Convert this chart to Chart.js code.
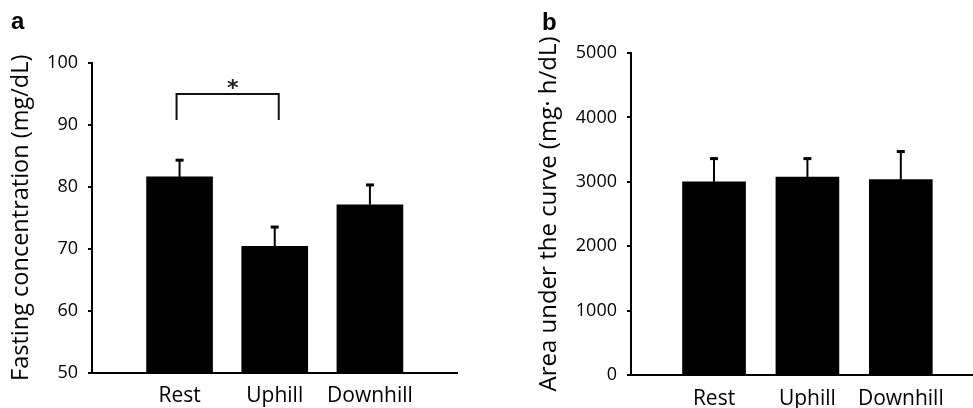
<!DOCTYPE html>
<html>
<head>
<meta charset="utf-8">
<script src="https://cdn.jsdelivr.net/npm/chart.js@4/dist/chart.umd.min.js"></script>
<style>
    body { margin: 0; background: #fff; }
    #wrap { position: relative; width: 973px; height: 408px; overflow: hidden; }
    .panel { position: absolute; top: 0; height: 408px; }
    .tag { position: absolute; font: bold 24px "Liberation Sans", Arial, sans-serif; color: #000; }
</style>
</head>
<body>
<div id="wrap">
    <div class="panel" style="left:0;width:490px"><canvas id="cA" width="490" height="408"></canvas></div>
    <div class="panel" style="left:490px;width:483px"><canvas id="cB" width="483" height="408"></canvas></div>
    <div class="tag" style="left:11px;top:7px">a</div>
    <div class="tag" style="left:542px;top:8px">b</div>
</div>
<script>
const categories = ['Rest', 'Uphill', 'Downhill'];

// panel a - fasting concentration
const fastingMean = [81.6, 70.4, 77.1];
const fastingErr = [2.7, 3.1, 3.2];
const fastingTicks = [50, 60, 70, 80, 90, 100];

// panel b - area under the curve
const aucMean = [3000, 3075, 3035];
const aucErr = [360, 285, 435];
const aucTicks = [0, 1000, 2000, 3000, 4000, 5000];

// significance Rest vs Uphill
const sigPair = [0, 1];
const sigTop = 95;
const sigLeg = 90.8;
const sigText = '*';

const FONT = '"Open Sans", "Noto Sans", sans-serif';

const errBars = {
    id: 'errBars',
    afterDatasetsDraw(chart, args, opts) {
        const ctx = chart.ctx, xs = chart.scales.x, ys = chart.scales.y;
        ctx.save();
        ctx.strokeStyle = '#000';
        opts.mean.forEach((m, i) => {
            const x = xs.getPixelForValue(i);
            const y0 = ys.getPixelForValue(m);
            const y1 = ys.getPixelForValue(m + opts.err[i]);
            ctx.lineWidth = 2;
            ctx.beginPath();
            ctx.moveTo(x, y0);
            ctx.lineTo(x, y1);
            ctx.stroke();
            ctx.lineWidth = 3;
            ctx.beginPath();
            ctx.moveTo(x - 4, y1);
            ctx.lineTo(x + 4, y1);
            ctx.stroke();
        });
        ctx.restore();
    }
};

const bracket = {
    id: 'bracket',
    afterDatasetsDraw(chart, args, opts) {
        if (!opts.on) return;
        const ctx = chart.ctx, xs = chart.scales.x, ys = chart.scales.y;
        const xl = xs.getPixelForValue(sigPair[0]) - 3;
        const xr = xs.getPixelForValue(sigPair[1]) + 4;
        const yt = ys.getPixelForValue(sigTop);
        const yb = ys.getPixelForValue(sigLeg);
        ctx.save();
        ctx.strokeStyle = '#111';
        ctx.lineWidth = 2;
        ctx.beginPath();
        ctx.moveTo(xl, yb);
        ctx.lineTo(xl, yt);
        ctx.lineTo(xr, yt);
        ctx.lineTo(xr, yb);
        ctx.stroke();
        ctx.fillStyle = '#222';
        ctx.font = 'bold 22px "DejaVu Sans", sans-serif';
        ctx.textAlign = 'center';
        ctx.textBaseline = 'alphabetic';
        ctx.fillText(sigText, (xl + xr) / 2 + 5, yt + 1);
        ctx.restore();
    }
};

function build(id, o) {
    return new Chart(document.getElementById(id), {
        type: 'bar',
        data: {
            datasets: [{
                data: o.mean.map((v, i) => ({ x: i, y: v })),
                backgroundColor: '#000',
                borderWidth: 0,
                barThickness: o.barW
            }]
        },
        options: {
            responsive: false,
            animation: false,
            events: [],
            layout: { padding: { top: o.top, right: o.right, left: 0, bottom: 0 } },
            plugins: {
                legend: { display: false },
                tooltip: { enabled: false },
                errBars: { mean: o.mean, err: o.err },
                bracket: { on: o.sig }
            },
            scales: {
                x: {
                    type: 'linear',
                    offset: false,
                    min: o.xmin,
                    max: o.xmax,
                    afterBuildTicks: s => { s.ticks = categories.map((c, i) => ({ value: i })); },
                    afterFit: s => { s.height = o.xH; },
                    ticks: {
                        callback: v => categories[v],
                        color: '#000',
                        padding: 11,
                        maxRotation: 0,
                        autoSkip: false,
                        font: { family: FONT, size: 21 }
                    },
                    grid: { display: false, drawTicks: false, offset: false },
                    border: { color: '#000', width: 2 }
                },
                y: {
                    min: o.ticks[0],
                    max: o.ticks[o.ticks.length - 1],
                    afterBuildTicks: s => { s.ticks = o.ticks.map(v => ({ value: v })); },
                    afterFit: s => { s.width = o.yW; },
                    ticks: {
                        callback: v => String(v),
                        color: '#000',
                        padding: 10,
                        font: { family: FONT, size: 18 }
                    },
                    grid: { drawOnChartArea: false, color: '#000', lineWidth: 2, tickLength: 4 },
                    border: { color: '#000', width: 2 },
                    title: {
                        display: true,
                        text: o.title,
                        color: '#000',
                        padding: { top: o.titlePad, bottom: 0 },
                        font: { family: FONT, size: o.titleSize }
                    }
                }
            }
        },
        plugins: [errBars, bracket]
    });
}

build('cA', {
    mean: fastingMean, err: fastingErr, ticks: fastingTicks, sig: true,
    title: 'Fasting concentration (mg/dL)', titleSize: 23.5,
    barW: 66, top: 63, right: 33, xmin: -0.92, xmax: 2.915, xH: 35.5, yW: 92, titlePad: 7
});

build('cB', {
    mean: aucMean, err: aucErr, ticks: aucTicks, sig: false,
    title: 'Area under the curve (mg\u00b7 h/dL)', titleSize: 24,
    barW: 63, top: 53, right: 0, xmin: -0.889, xmax: 2.773, xH: 33, yW: 141, titlePad: 45
});
</script>
</body>
</html>
